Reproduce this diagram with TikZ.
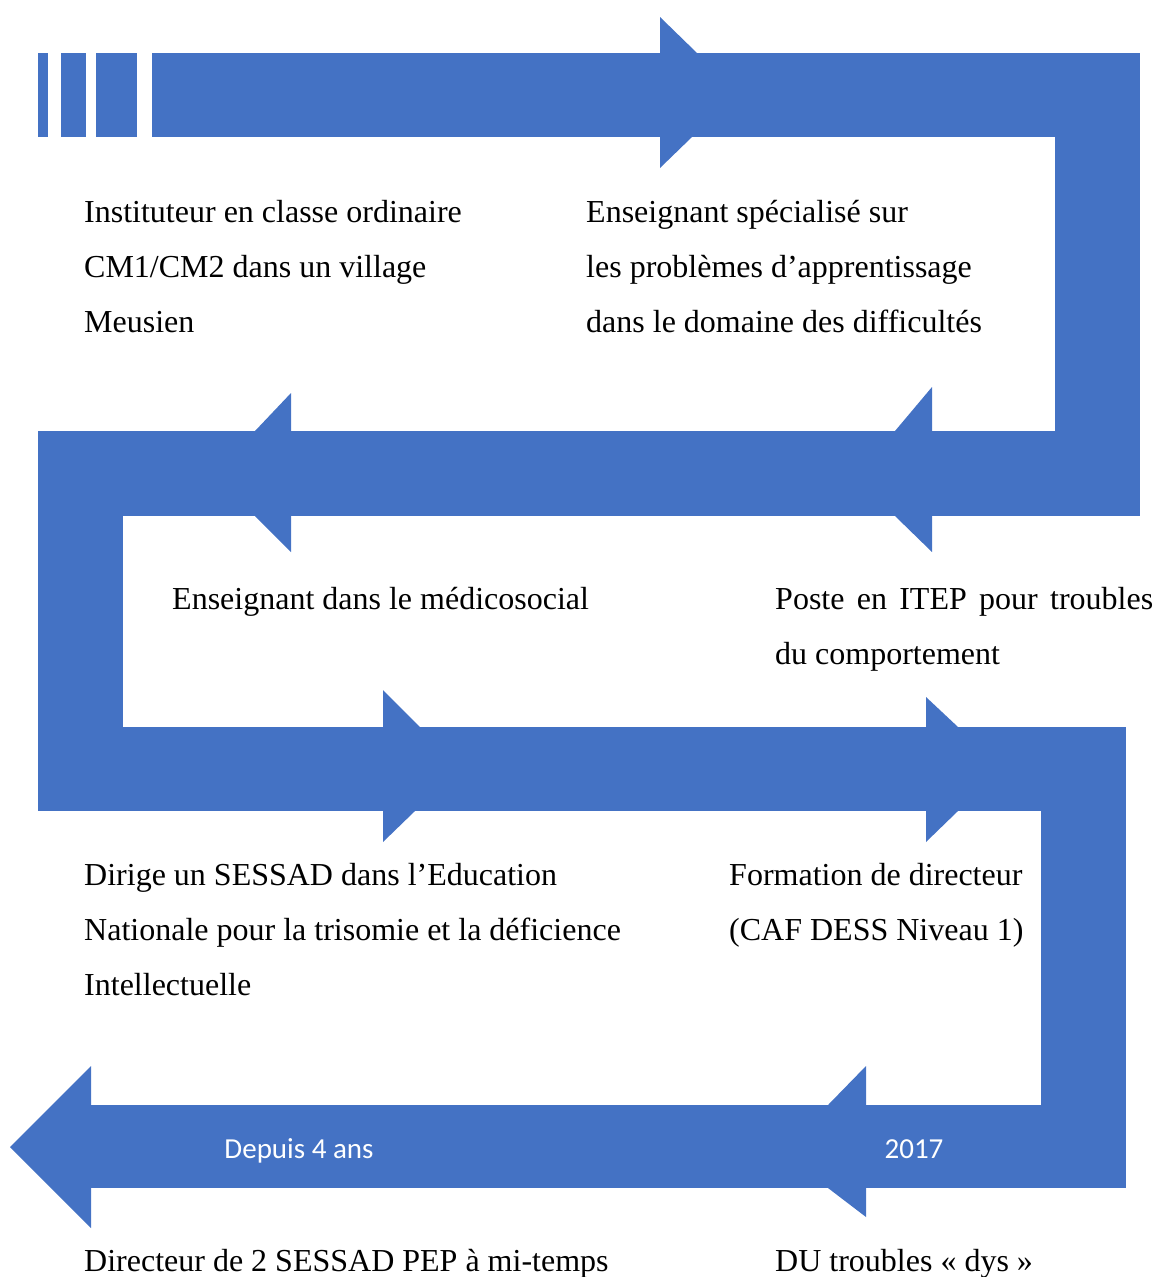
\documentclass[tikz,border=0pt]{standalone}
\usepackage{fontspec}
\setmainfont{Liberation Serif}
\newfontfamily\bandfont{Carlito}
\usetikzlibrary{positioning}
\definecolor{bandblue}{HTML}{4472C4}

\tikzset{
  band/.style={fill=bandblue},
  stage/.style={anchor=north west, inner sep=0pt, align=left,
    font=\fontsize{32}{55}\selectfont},
  year/.style={anchor=base, text=white, inner sep=0pt, font=\bandfont\fontsize{29}{34}\selectfont}
}

\begin{document}
\begin{tikzpicture}[x=1pt,y=-1pt]
    \useasboundingbox (0,0) rectangle (1159,1277);
    % first band, left to right
    \fill[band] (38,53) rectangle (48,137);
    \fill[band] (61,53) rectangle (86,137);
    \fill[band] (96,53) rectangle (137,137);
    \fill[band] (152,53) rectangle (1140,137);
    \fill[band] (660,17) -- (697,53) -- (660,53) -- cycle;
    \fill[band] (660,168) -- (692,137) -- (660,137) -- cycle;
    \fill[band] (1055,53) rectangle (1140,516);
    % second band, right to left
    \fill[band] (38,431) rectangle (1140,516);
    \fill[band] (291,393) -- (255,431) -- (291,431) -- cycle;
    \fill[band] (291,552) -- (255,516) -- (291,516) -- cycle;
    \fill[band] (932,387) -- (895,431) -- (932,431) -- cycle;
    \fill[band] (932,552) -- (895,516) -- (932,516) -- cycle;
    \fill[band] (38,431) rectangle (123,811);
    % third band, left to right
    \fill[band] (38,727) rectangle (1126,811);
    \fill[band] (383,690) -- (420,727) -- (383,727) -- cycle;
    \fill[band] (383,842) -- (415,811) -- (383,811) -- cycle;
    \fill[band] (926,697) -- (958,727) -- (926,727) -- cycle;
    \fill[band] (926,842) -- (958,811) -- (926,811) -- cycle;
    \fill[band] (1041,727) rectangle (1126,1188);
    % last band, right to left
    \fill[band] (91,1105) rectangle (1126,1188);
    \fill[band] (866,1066) -- (828,1105) -- (866,1105) -- cycle;
    \fill[band] (866,1217) -- (828,1188) -- (866,1188) -- cycle;
    \fill[band] (10,1147) -- (91,1066) -- (91,1228) -- cycle;

    \node[year] (depuis) at (299,1158) {Depuis 4 ans};
    \node[year] (annee) at (914,1158) {2017};

    \node[stage] (instit) at (84,200) {Instituteur en classe ordinaire\\CM1/CM2 dans un village\\Meusien};
    \node[stage] (special) at (586,200) {Enseignant spécialisé sur\\les problèmes d’apprentissage\\dans le domaine des difficultés};
    \node[stage] (medico) at (172,587) {Enseignant dans le médicosocial};
    \node[stage] (itep) at (775,587) {\hbox to 378pt{Poste\hfill en\hfill ITEP\hfill pour\hfill troubles}\\du comportement};
    \node[stage] (sessad) at (84,863) {Dirige un SESSAD dans l’Education\\Nationale pour la trisomie et la déficience\\Intellectuelle};
    \node[stage] (formation) at (729,863) {Formation de directeur\\(CAF DESS Niveau 1)};
    \node[stage] (directeur) at (84,1249) {Directeur de 2 SESSAD PEP à mi-temps};
    \node[stage] (dys) at (775,1249) {DU troubles « dys »};
\end{tikzpicture}
\end{document}
